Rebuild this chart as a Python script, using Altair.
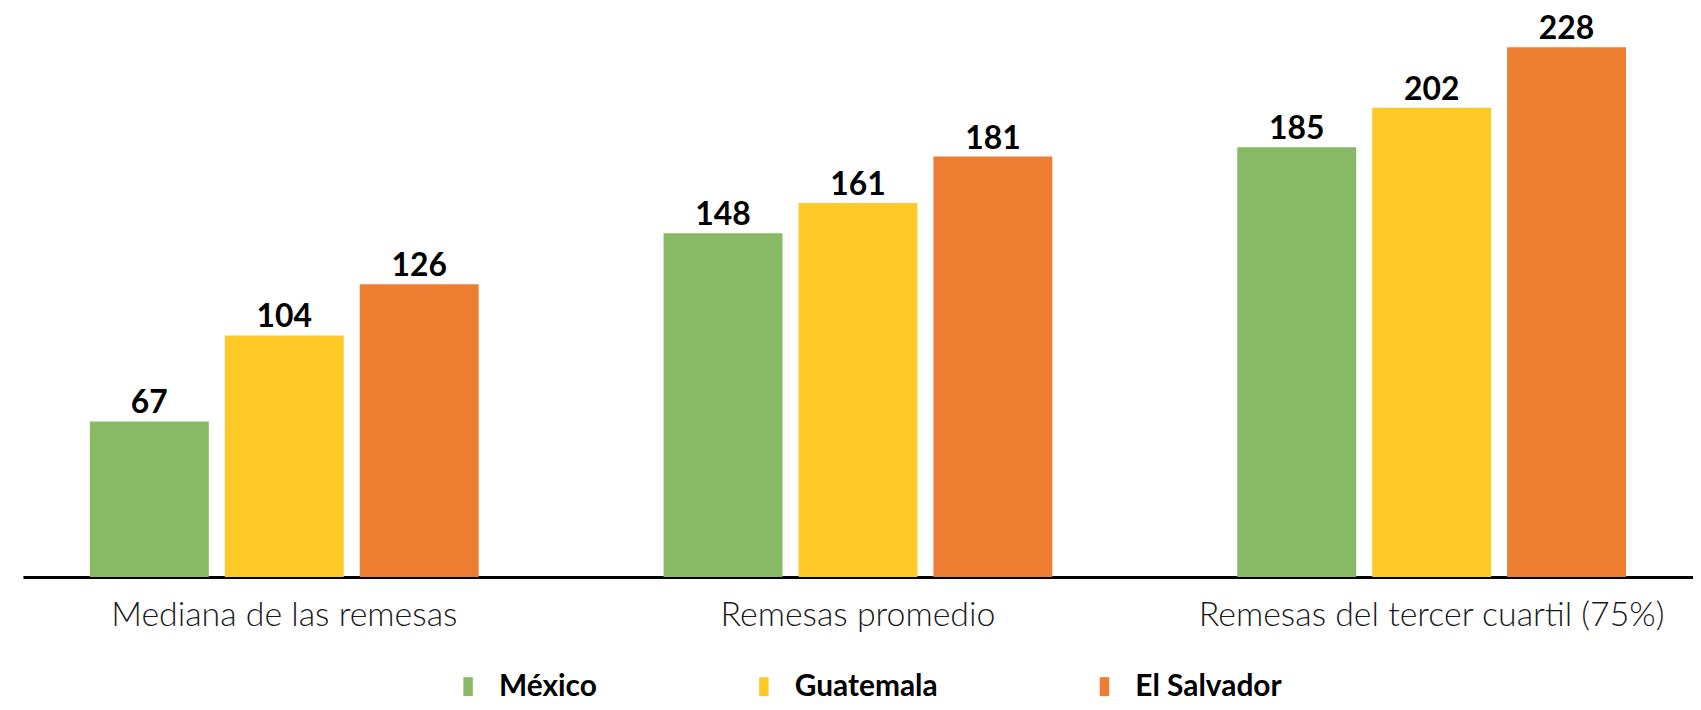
import altair as alt
import pandas as pd

categories = ["Mediana de las remesas", "Remesas promedio", "Remesas del tercer cuartil (75%)"]
countries = ["México", "Guatemala", "El Salvador"]
mexico = [67, 148, 185]
guatemala = [104, 161, 202]
el_salvador = [126, 181, 228]
colors = ["#88BA65", "#FFCA28", "#ED7D31"]

rows = []
for i, c in enumerate(categories):
    for country, vals in zip(countries, [mexico, guatemala, el_salvador]):
        rows.append({"categoria": c, "pais": country, "valor": vals[i]})
df = pd.DataFrame(rows)

x = alt.X("categoria:N", sort=categories,
          scale=alt.Scale(paddingInner=0.3223, paddingOuter=0.1167, align=0.5),
          axis=alt.Axis(title=None, labelAngle=0, ticks=False, domainColor="#000000",
                        domainWidth=3, labelFont="Lato", labelFontWeight=300,
                        labelFontSize=34, labelColor="#1a1a1a", labelPadding=22,
                        labelLimit=0, grid=False))
xo = alt.XOffset("pais:N", sort=countries, scale=alt.Scale(paddingInner=0.1185, paddingOuter=0))
y = alt.Y("valor:Q", scale=alt.Scale(domain=[0, 240], nice=False), axis=None)

bars = alt.Chart(df).mark_bar().encode(
    x=x, xOffset=xo, y=y,
    color=alt.Color("pais:N", sort=countries,
                    scale=alt.Scale(domain=countries, range=colors),
                    legend=alt.Legend(title=None, orient="none", direction="horizontal",
                                      legendX=432, legendY=655, padding=0,
                                      symbolType="M-0.5,-1H0.5V1H-0.5Z",
                                      symbolSize=361, symbolStrokeWidth=0,
                                      labelFont="Lato", labelFontWeight="bold",
                                      labelFontSize=30, labelColor="#000000",
                                      labelOffset=16, columnPadding=152,
                                      labelLimit=0)),
)

labels = alt.Chart(df).mark_text(baseline="bottom", dy=-1, font="Lato",
                                 fontWeight="bold", fontSize=32, color="#000000").encode(
    x=x, xOffset=xo, y=y, text=alt.Text("valor:Q")
)

chart = alt.layer(bars, labels).properties(
    width=1677, height=560,
    background="#ffffff",
    autosize=alt.AutoSizeParams(type="none"),
    padding={"left": 15, "top": 10, "right": 0, "bottom": 124},
).configure_view(stroke=None)

chart.save("out.html", embed_options={"renderer": "svg", "actions": False})
